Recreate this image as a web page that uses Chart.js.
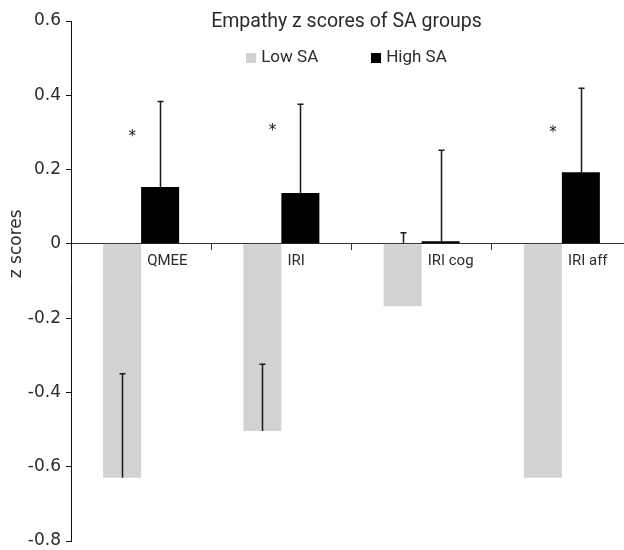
<!DOCTYPE html>
<html>
<head>
<meta charset="utf-8">
<script src="https://cdn.jsdelivr.net/npm/chart.js@4"></script>
<style>
  html, body { margin: 0; padding: 0; background: #ffffff; overflow: hidden; width: 624px; height: 550px; }
  #wrap { width: 632px; height: 550px; }
</style>
</head>
<body>
<div id="wrap"><canvas id="c" width="632" height="550"></canvas></div>
<script>
// ---- data ----
const categories = ['QMEE', 'IRI', 'IRI cog', 'IRI aff'];
const seriesNames = ['Low SA', 'High SA'];
const lowSA = [-0.630, -0.504, -0.168, -0.630];
const highSA = [0.153, 0.137, 0.007, 0.193];
// error bar segments (value units)
const lowErrFrom = [-0.630, -0.504, 0.000, null];
const lowErrTo = [-0.350, -0.324, 0.030, null];
const highErrTo = [0.383, 0.376, 0.252, 0.419];
// significance markers
const starValues = [0.299, 0.317, null, 0.311];
const yTickValues = [-0.8, -0.6, -0.4, -0.2, 0, 0.2, 0.4, 0.6];
const chartTitle = 'Empathy z scores of SA groups';
const yAxisTitle = 'z scores';

const lowColor = '#d1d2d4';
const highColor = '#000000';
const textColor = '#2b2b2b';

const overlayPlugin = {
  id: 'overlay',
  afterDatasetsDraw(chart) {
    const ctx = chart.ctx;
    const y = chart.scales.y;
    const m0 = chart.getDatasetMeta(0);
    const m1 = chart.getDatasetMeta(1);
    ctx.save();
    ctx.strokeStyle = '#1a1a1a';
    ctx.lineWidth = 1.5;
    const cap = 3;
    const seg = (x, a, b) => {
      const px = Math.round(x) + 0.5;
      const pa = y.getPixelForValue(a), pb = y.getPixelForValue(b);
      ctx.beginPath();
      ctx.moveTo(px, pa); ctx.lineTo(px, pb);
      ctx.moveTo(px - cap, pb); ctx.lineTo(px + cap, pb);
      ctx.stroke();
    };
    categories.forEach((c, i) => {
      if (lowErrTo[i] !== null) seg(m0.data[i].x, lowErrFrom[i], lowErrTo[i]);
      if (highErrTo[i] !== null) seg(m1.data[i].x, highSA[i], highErrTo[i]);
    });
    // stars
    ctx.fillStyle = '#111';
    ctx.font = '15px "DejaVu Sans"';
    ctx.textAlign = 'center';
    ctx.textBaseline = 'alphabetic';
    const xs = chart.scales.x;
    categories.forEach((c, i) => {
      if (starValues[i] === null) return;
      const px = xs.getPixelForValue(i) - 9;
      const py = y.getPixelForValue(starValues[i]) + 0.575 * 15;
      ctx.fillText('*', px, py);
    });
    ctx.restore();
  },
  afterDraw(chart) {
    const ctx = chart.ctx;
    const ca = chart.chartArea;
    const y = chart.scales.y;
    const cx = (ca.left + ca.right) / 2 - 5;
    ctx.save();
    // title
    ctx.fillStyle = textColor;
    ctx.font = '19.5px Roboto';
    ctx.textAlign = 'center';
    ctx.textBaseline = 'alphabetic';
    ctx.fillText(chartTitle, cx, 27);
    // legend
    ctx.font = '17px Roboto';
    ctx.textAlign = 'left';
    ctx.textBaseline = 'middle';
    const box = 10, gapText = 5, gapItem = 53;
    const items = chart.data.datasets.map(d => ({ label: d.label, color: d.backgroundColor, w: ctx.measureText(d.label).width }));
    const total = items.reduce((s, it) => s + box + gapText + it.w, 0) + gapItem * (items.length - 1);
    let x = cx - total / 2;
    const ly = 58;
    items.forEach(it => {
      ctx.fillStyle = it.color;
      ctx.fillRect(Math.round(x), ly - 5, box, box);
      ctx.fillStyle = textColor;
      ctx.fillText(it.label, x + box + gapText, ly);
      x += box + gapText + it.w + gapItem;
    });
    // y axis title
    ctx.font = '17px "DejaVu Sans"';
    ctx.textAlign = 'center';
    ctx.textBaseline = 'middle';
    ctx.translate(17, y.getPixelForValue(0));
    ctx.rotate(-Math.PI / 2);
    ctx.fillText(yAxisTitle, 0, 0);
    ctx.restore();
  }
};

new Chart(document.getElementById('c'), {
  type: 'bar',
  data: {
    labels: categories,
    datasets: [
      { label: seriesNames[0], data: lowSA, backgroundColor: lowColor, borderWidth: 0 },
      { label: seriesNames[1], data: highSA, backgroundColor: highColor, borderWidth: 0 }
    ]
  },
  options: {
    responsive: false,
    animation: false,
    devicePixelRatio: 1,
    categoryPercentage: 0.542,
    barPercentage: 1.0,
    layout: { padding: { top: 21, bottom: 9, left: 0, right: 0 } },
    plugins: {
      legend: { display: false },
      title: { display: false },
      tooltip: { enabled: false }
    },
    scales: {
      x: {
        type: 'category',
        position: { y: 0 },
        z: 1,
        grid: { display: true, drawOnChartArea: false, drawTicks: true, tickLength: 6, offset: true, color: '#333', lineWidth: 1 },
        border: { display: true, color: '#333', width: 1 },
        ticks: { align: 'start', labelOffset: 6, padding: 2, autoSkip: false, maxRotation: 0, font: { family: 'Roboto', size: 15 }, color: textColor },
        afterFit: s => { s.height = 0; s.paddingLeft = 0; s.paddingRight = 0; s.paddingTop = 0; s.paddingBottom = 0; }
      },
      y: {
        min: -0.8,
        max: 0.6,
        position: 'left',
        grid: { display: true, drawOnChartArea: false, drawTicks: true, tickLength: 5, color: '#111', lineWidth: 1 },
        border: { display: true, color: '#111', width: 1 },
        afterBuildTicks: s => { s.ticks = yTickValues.map(v => ({ value: v })); },
        ticks: {
          padding: 5,
          font: { family: 'DejaVu Sans', size: 17 },
          color: textColor,
          callback: v => String(Math.round(v * 10) / 10)
        },
        afterFit: s => { s.width = 71; s.paddingTop = 0; s.paddingBottom = 0; }
      }
    }
  },
  plugins: [overlayPlugin]
});
</script>
</body>
</html>
